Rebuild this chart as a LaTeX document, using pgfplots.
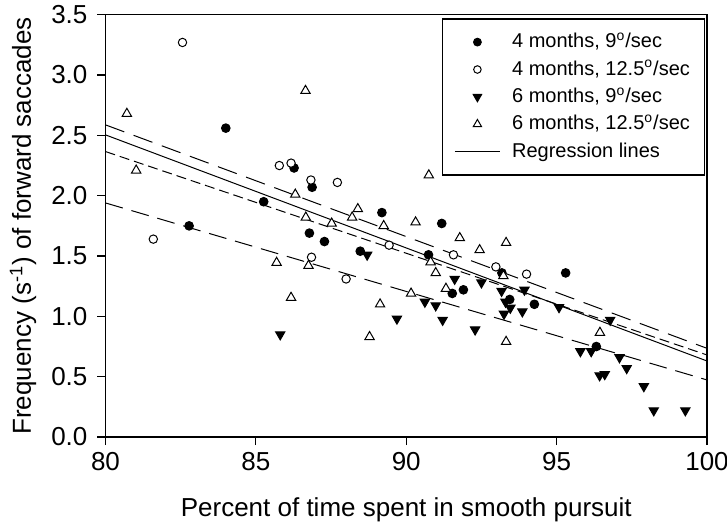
\documentclass[border=0pt]{standalone}
\usepackage{fontspec}
\setmainfont{Liberation Sans}
\usepackage{pgfplots}
\pgfplotsset{compat=1.18}

\pgfplotsset{
  markleg/.style={legend image code/.code={
    \path[draw=none] (0pt,0pt) -- (22.5pt,0pt);
    \draw[##1, draw=none, every mark/.append style={draw=black, scale=0.9}] plot coordinates {(11.25pt,0pt)};}},
  lineleg/.style={legend image code/.code={
    \draw[##1] (0pt,0pt) -- (22.5pt,0pt);}},
}

\begin{document}
\begin{tikzpicture}
\begin{axis}[
  scale only axis, width=300.75pt, height=211.15pt,
  xmin=80, xmax=100, ymin=0, ymax=3.5,
  xtick={80,85,...,100}, ytick={0,0.5,...,3.5},
  tick align=outside, xtick pos=left, ytick pos=left,
  major tick length=4pt,
  axis line style={line width=0.75pt},
  every tick/.style={black, line width=0.6pt},
  ticklabel style={font=\fontsize{13}{15}\selectfont},
  /pgf/number format/assume math mode=true,
  yticklabel={\pgfmathprintnumber[fixed,fixed zerofill,precision=1]{\tick}\hspace*{1.5pt}},
  xlabel={Percent of time spent in smooth pursuit},
  ylabel={Frequency (s\textsuperscript{-1}) of forward saccades},
  label style={font=\fontsize{13}{15}\selectfont},
  xlabel style={at={(axis description cs:0.5,-0.1894)}, anchor=base},
  ylabel style={at={(axis description cs:-0.1239,0.5)}, anchor=base},
  legend style={at={(0.9967,0.9915)}, anchor=north east, draw=black, line width=0.6pt,
    font=\fontsize{10}{12}\selectfont, inner xsep=6.15pt, inner ysep=6.85pt,
    row sep=4.2pt, column sep=5.85pt,
    nodes={inner sep=0pt, text height=7.5pt, text depth=2pt}},
  legend cell align=left,
]
% regression lines
\addplot[black, line width=0.5pt, dash pattern=on 10pt off 5pt, forget plot] coordinates {(80,2.587) (100,0.735)};
\addplot[black, line width=0.5pt, forget plot] coordinates {(80,2.504) (100,0.630)};
\addplot[black, line width=0.5pt, dash pattern=on 5pt off 2.5pt, forget plot] coordinates {(80,2.366) (100,0.680)};
\addplot[black, line width=0.5pt, dash pattern=on 9pt off 4.5pt, forget plot] coordinates {(80,1.94) (100,0.473)};

% 4 months, 9 deg/sec
\addplot[only marks, markleg, mark=*, mark size=2.15pt, mark options={draw=black, fill=black, line width=0.5pt}] coordinates {
  (84.0,2.56) (86.27,2.23) (86.87,2.07) (85.26,1.95) (82.78,1.75) (89.19,1.86)
  (91.18,1.77) (86.78,1.69) (87.28,1.62) (88.47,1.54) (90.74,1.51) (93.18,1.36)
  (91.9,1.22) (91.53,1.19) (93.44,1.14) (94.26,1.10) (95.3,1.36) (96.32,0.75)
};
\addlegendentry{\makebox[90pt][l]{4 months, 9\textsuperscript{o}/sec}}

% 4 months, 12.5 deg/sec
\addplot[only marks, markleg, mark=*, mark size=2.1pt, mark options={draw=black, fill=white, line width=0.5pt}] coordinates {
  (82.56,3.27) (85.78,2.25) (86.17,2.27) (86.83,2.13) (87.71,2.11) (81.59,1.64)
  (86.85,1.49) (89.43,1.59) (91.57,1.51) (88.0,1.31) (92.98,1.41) (94.0,1.35)
};
\addlegendentry{\makebox[90pt][l]{4 months, 12.5\textsuperscript{o}/sec}}

% 6 months, 9 deg/sec
\addplot[only marks, markleg, mark=triangle*, mark size=2.7pt, mark options={draw=black, fill=black, line width=0.5pt, rotate=180}] coordinates {
  (85.81,0.85) (88.7,1.51) (91.61,1.31) (92.5,1.28) (93.17,1.21) (93.93,1.22)
  (90.62,1.12) (90.98,1.09) (89.69,0.98) (91.21,0.97) (92.29,0.89) (93.3,1.12)
  (93.46,1.07) (93.25,1.02) (93.86,1.04) (95.08,1.075) (96.78,0.97) (95.79,0.71)
  (96.15,0.71) (97.09,0.66) (97.33,0.57) (96.43,0.51) (96.6,0.52) (97.9,0.42)
  (98.23,0.22) (99.28,0.22)
};
\addlegendentry{\makebox[90pt][l]{6 months, 9\textsuperscript{o}/sec}}

% 6 months, 12.5 deg/sec
\addplot[only marks, markleg, mark=triangle*, mark size=2.7pt, mark options={draw=black, fill=white, line width=0.5pt}] coordinates {
  (86.65,2.87) (80.71,2.68) (81.02,2.21) (86.31,2.01) (86.66,1.82) (90.75,2.17)
  (88.39,1.89) (87.52,1.77) (88.2,1.82) (89.25,1.75) (90.31,1.78) (91.78,1.65)
  (92.44,1.55) (93.32,1.61) (86.75,1.42) (85.69,1.445) (90.81,1.45) (93.23,1.335)
  (90.98,1.36) (91.32,1.23) (90.16,1.19) (89.13,1.10) (86.17,1.155) (88.78,0.83)
  (93.32,0.79) (96.44,0.865)
};
\addlegendentry{\makebox[90pt][l]{6 months, 12.5\textsuperscript{o}/sec}}

\addlegendimage{black, line width=0.5pt, no marks, lineleg}
\addlegendentry{\makebox[90pt][l]{Regression lines}}
\end{axis}
\pgfresetboundingbox
\path (current axis.south west) ++(-52.75pt,-45pt) rectangle ++(363.5pt,263.5pt);
\end{tikzpicture}
\end{document}
